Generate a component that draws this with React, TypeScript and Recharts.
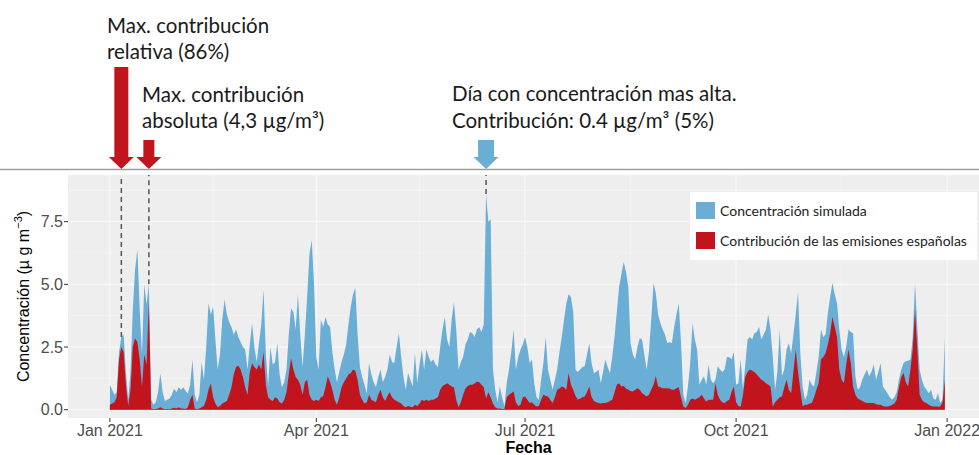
import React from "react";
import { AreaChart, Area, XAxis, YAxis, CartesianGrid, ReferenceLine, ReferenceDot } from "recharts";

// daily values for 2021 (µg/m3)
const concJan = [1.0, 0.8, 0.6, 0.7, 2.3, 2.9, 3.0, 1.5, 0.4, 1.5, 4.0, 5.6, 6.4, 4.0, 2.2, 5.0, 4.2, 5.0, 0.4, 0.2, 0.3, 0.7, 1.45, 0.7, 0.35, 0.4, 0.45, 0.6, 0.85, 0.7, 0.9];
const concFeb = [0.8, 0.9, 0.75, 0.65, 1.0, 2.0, 0.6, 0.3, 0.6, 1.9, 1.2, 2.5, 4.25, 3.8, 4.1, 2.8, 1.6, 2.2, 3.6, 4.4, 3.8, 3.5, 3.3, 3.0, 3.2, 2.9, 2.7, 2.5];
const concMar = [2.4, 1.6, 2.6, 3.45, 2.5, 1.9, 2.65, 3.4, 4.8, 2.2, 0.95, 2.5, 1.8, 1.9, 2.65, 1.4, 0.9, 1.1, 1.6, 3.0, 4.05, 3.9, 3.2, 4.6, 3.0, 1.7, 3.0, 4.5, 6.2, 6.77, 5.0];
const concApr = [2.1, 1.6, 3.6, 3.3, 3.7, 3.4, 3.3, 2.3, 1.6, 1.1, 1.5, 1.9, 2.2, 2.6, 3.4, 4.1, 4.6, 4.85, 3.0, 1.7, 1.3, 1.0, 0.66, 1.86, 1.4, 1.1, 0.9, 1.3, 1.6, 1.1];
const concMay = [1.3, 1.6, 2.2, 1.9, 1.86, 2.5, 3.05, 2.1, 1.3, 0.8, 1.46, 1.2, 0.93, 2.25, 1.06, 1.8, 2.4, 1.6, 2.4, 2.1, 1.9, 2.0, 1.8, 1.7, 2.5, 3.2, 3.7, 2.8, 2.5, 3.6, 4.3];
const concJun = [3.2, 1.6, 1.9, 2.1, 2.6, 2.8, 3.1, 3.05, 2.9, 3.2, 3.3, 3.1, 3.4, 8.6, 7.5, 7.6, 1.6, 0.8, 0.3, 0.93, 0.5, 0.13, 1.06, 1.6, 2.3, 3.2, 1.6, 2.1, 2.4, 2.6];
const concJul = [2.9, 2.5, 1.86, 2.0, 1.06, 0.5, 0.4, 1.2, 1.86, 2.9, 1.6, 1.2, 0.8, 1.2, 1.6, 2.3, 2.9, 3.6, 4.25, 4.6, 4.5, 3.9, 1.6, 1.5, 1.6, 1.7, 1.73, 2.2, 2.65, 1.86, 1.46];
const concAug = [1.5, 1.6, 1.06, 1.5, 2.0, 1.7, 1.46, 2.1, 2.9, 3.9, 4.9, 5.4, 5.9, 5.5, 4.9, 2.65, 2.2, 2.0, 2.5, 2.85, 2.8, 2.2, 1.6, 2.3, 3.6, 5.05, 4.65, 3.8, 3.45, 3.2, 3.0];
const concSep = [2.65, 2.7, 2.65, 3.3, 3.8, 4.25, 2.65, 0.6, 0.27, 0.93, 1.86, 3.45, 2.8, 2.4, 1.0, 1.2, 1.33, 1.0, 1.8, 1.2, 1.06, 1.2, 1.73, 1.6, 1.5, 1.6, 2.1, 2.1, 2.0, 2.3];
const concOct = [1.0, 1.06, 2.0, 0.8, 1.8, 2.8, 2.9, 2.8, 3.05, 3.1, 3.3, 2.8, 3.0, 3.2, 3.8, 3.2, 2.1, 0.8, 1.5, 3.2, 1.33, 1.6, 2.4, 2.65, 2.25, 3.0, 3.8, 4.7, 2.25, 0.93, 0.4];
const concNov = [0.6, 1.2, 1.0, 0.93, 1.5, 2.1, 3.2, 2.9, 3.0, 3.85, 4.5, 5.05, 4.6, 4.25, 3.2, 2.4, 2.1, 2.5, 3.2, 3.1, 3.05, 1.33, 0.8, 0.9, 1.2, 1.4, 1.6, 1.33, 1.5, 1.8];
const concDec = [1.2, 1.5, 1.86, 0.93, 0.8, 0.66, 0.5, 0.4, 0.5, 0.7, 1.2, 1.6, 1.86, 1.93, 1.95, 2.0, 2.9, 5.05, 3.3, 1.6, 1.2, 0.93, 0.8, 0.66, 0.8, 0.45, 0.4, 0.66, 0.27, 0.4, 2.9];

const contribJan = [0.2, 0.25, 0.3, 0.5, 2.0, 2.5, 2.3, 1.0, 0.15, 0.8, 2.5, 2.85, 2.7, 2.0, 0.9, 2.2, 1.8, 4.3, 0.05, 0.02, 0.03, 0.05, 0.1, 0.05, 0.02, 0.03, 0.02, 0.05, 0.08, 0.05, 0.1];
const contribFeb = [0.05, 0.05, 0.03, 0.1, 0.4, 0.6, 0.05, 0.02, 0.05, 0.1, 0.15, 0.4, 0.8, 1.05, 0.5, 0.25, 0.1, 0.15, 0.25, 0.3, 0.35, 0.6, 0.9, 1.4, 1.7, 1.75, 1.6, 1.3];
const contribMar = [0.9, 0.6, 1.5, 1.85, 1.7, 1.6, 1.8, 1.6, 2.3, 1.0, 0.5, 0.4, 0.35, 0.5, 0.45, 0.3, 0.25, 0.4, 0.7, 1.4, 2.05, 1.6, 1.3, 1.2, 1.0, 0.6, 1.1, 1.2, 0.6, 0.4, 0.35];
const contribApr = [0.4, 0.35, 0.5, 0.55, 0.9, 1.33, 1.1, 0.8, 0.4, 0.2, 0.5, 0.9, 1.1, 1.25, 1.4, 1.45, 1.6, 1.55, 1.2, 0.6, 0.4, 0.25, 0.3, 0.6, 0.4, 0.35, 0.3, 0.6, 0.8, 0.5];
const contribMay = [0.35, 0.55, 0.7, 0.5, 0.4, 0.35, 0.3, 0.25, 0.15, 0.1, 0.15, 0.12, 0.1, 0.2, 0.15, 0.25, 0.4, 0.35, 0.4, 0.35, 0.4, 0.4, 0.45, 0.5, 0.8, 0.95, 1.0, 1.06, 1.0, 0.93, 0.9];
const contribJun = [0.4, 0.1, 0.3, 0.6, 0.85, 0.95, 1.0, 1.0, 1.05, 1.13, 1.1, 1.0, 0.9, 0.45, 0.7, 0.5, 0.25, 0.1, 0.05, 0.05, 0.03, 0.03, 0.5, 0.6, 0.66, 0.73, 0.3, 0.15, 0.2, 0.5];
const contribJul = [0.53, 0.4, 0.27, 0.3, 0.2, 0.13, 0.15, 0.4, 0.6, 0.55, 0.53, 0.4, 0.27, 0.5, 0.8, 0.85, 0.93, 0.9, 0.8, 1.46, 1.0, 0.8, 0.55, 0.4, 0.45, 0.5, 0.53, 0.7, 0.93, 0.5, 0.35];
const contribAug = [0.3, 0.27, 0.25, 0.27, 0.27, 0.3, 0.35, 0.4, 0.7, 1.0, 1.06, 0.93, 0.95, 0.85, 0.8, 0.75, 0.73, 0.8, 0.86, 0.8, 0.66, 0.6, 0.53, 0.6, 0.8, 1.0, 1.33, 0.93, 0.9, 0.86, 0.86];
const contribSep = [0.86, 0.85, 0.8, 0.8, 0.86, 0.9, 0.5, 0.13, 0.07, 0.2, 0.4, 0.45, 0.4, 0.45, 0.5, 0.6, 0.45, 0.33, 0.4, 0.4, 0.4, 1.06, 0.6, 0.4, 0.3, 0.27, 0.35, 0.4, 0.7, 0.93];
const contribOct = [0.3, 0.15, 0.13, 0.6, 1.3, 1.5, 1.6, 1.55, 1.5, 1.4, 1.3, 1.2, 1.15, 1.06, 1.0, 0.93, 0.13, 0.3, 0.4, 0.5, 0.53, 0.9, 1.2, 0.8, 0.66, 1.5, 2.4, 1.5, 0.8, 0.13, 0.2];
const contribNov = [0.2, 0.25, 0.27, 0.5, 0.8, 1.06, 2.0, 2.1, 2.25, 2.6, 3.05, 3.7, 3.3, 2.9, 1.6, 1.2, 1.06, 1.8, 2.4, 1.86, 0.93, 0.6, 0.45, 0.4, 0.35, 0.3, 0.27, 0.27, 0.27, 0.27];
const contribDec = [0.22, 0.2, 0.2, 0.15, 0.13, 0.13, 0.15, 0.2, 0.25, 0.4, 0.9, 1.3, 1.46, 1.1, 0.93, 1.6, 2.4, 4.0, 2.4, 0.6, 0.4, 0.3, 0.27, 0.2, 0.15, 0.13, 0.13, 0.13, 0.13, 0.3, 1.2];

const seriesNames = ["Concentración simulada", "Contribución de las emisiones españolas"];
const tickDays = [0, 90, 181, 273, 365];
const tickLabels = ["Jan 2021", "Apr 2021", "Jul 2021", "Oct 2021", "Jan 2022"];
const minorDays = [45, 135, 227, 319];
const yTicks = [0, 2.5, 5, 7.5];
const yMinor = [1.25, 3.75, 6.25, 8.75];
// days pointed at: max relative contribution, max absolute contribution, highest concentration
const markedDays = [5, 17, 164];

const concentration = [...concJan, ...concFeb, ...concMar, ...concApr, ...concMay, ...concJun, ...concJul, ...concAug, ...concSep, ...concOct, ...concNov, ...concDec];
const contribution = [...contribJan, ...contribFeb, ...contribMar, ...contribApr, ...contribMay, ...contribJun, ...contribJul, ...contribAug, ...contribSep, ...contribOct, ...contribNov, ...contribDec];

const data = concentration.map((v, i) => ({ day: i, conc: v, contrib: contribution[i] }));

const BLUE = "#6aaed6";
const RED = "#c2141c";
const Y_MIN = -0.33;
const Y_MAX = 9.36;
const AXIS_FONT = "'Liberation Sans', Arial, sans-serif";
const NOTE_FONT = "Lato, 'Open Sans', sans-serif";

const arrowStyles = [
  { color: RED, len: 102, shaft: 7 },
  { color: RED, len: 29, shaft: 5.5 },
  { color: BLUE, len: 29, shaft: 8 },
];

const DownArrow = ({ cx, cy, color, len, shaft }: any) => {
  const tip = cy - 6;
  const head = 12.5;
  const hl = 12;
  const top = tip - len;
  const pts = [
    [cx - shaft, top], [cx + shaft, top], [cx + shaft, tip - hl], [cx + head, tip - hl],
    [cx, tip], [cx - head, tip - hl], [cx - shaft, tip - hl],
  ].map((p) => p.join(",")).join(" ");
  return <polygon points={pts} fill={color} />;
};

const App = () => {
  return (
    <div style={{ position: "absolute", left: 0, top: 0, width: 979, height: 455, overflow: "hidden", background: "#fff" }}>
      <AreaChart width={990} height={455} data={data} margin={{ top: 175, right: 1, bottom: 0, left: 0 }}>
        <CartesianGrid fill="#EEEEEE" stroke="#f8f8f8" strokeWidth={0.5} horizontalValues={yMinor} verticalValues={minorDays} />
        <CartesianGrid stroke="#fafafa" strokeWidth={1} horizontalValues={yTicks} verticalValues={tickDays} />
        <XAxis
          type="number"
          dataKey="day"
          domain={[-18.25, 383.25]}
          allowDataOverflow
          ticks={tickDays}
          tickFormatter={(v: number) => tickLabels[tickDays.indexOf(v)]}
          axisLine={false}
          tickLine={{ stroke: "#333" }}
          tickSize={4}
          tickMargin={3}
          height={37}
          tick={{ fill: "#4d4d4d", fontSize: 16, fontFamily: AXIS_FONT }}
        />
        <YAxis
          type="number"
          domain={[Y_MIN, Y_MAX]}
          allowDataOverflow
          ticks={yTicks}
          tickFormatter={(v: number) => v.toFixed(1)}
          axisLine={false}
          tickLine={{ stroke: "#333" }}
          tickSize={4}
          tickMargin={1}
          width={68}
          tick={{ fill: "#4d4d4d", fontSize: 16, fontFamily: AXIS_FONT }}
        />
        <Area type="linear" dataKey="conc" name={seriesNames[0]} fill={BLUE} fillOpacity={1} stroke="none" baseValue={0} isAnimationActive={false} />
        <Area type="linear" dataKey="contrib" name={seriesNames[1]} fill={RED} fillOpacity={1} stroke="none" baseValue={0} isAnimationActive={false} />
        {markedDays.map((d) => (
          <ReferenceLine
            key={`dash-${d}`}
            segment={[{ x: d, y: concentration[d] }, { x: d, y: Y_MAX }]}
            stroke="#555"
            strokeWidth={1.5}
            strokeDasharray="5 4"
          />
        ))}
        {markedDays.map((d, i) => (
          <ReferenceDot
            key={`arrow-${d}`}
            x={d}
            y={Y_MAX}
            r={0}
            ifOverflow="visible"
            shape={(p: any) => <DownArrow cx={p.cx} cy={p.cy} {...arrowStyles[i]} />}
          />
        ))}
      </AreaChart>

      <svg width={979} height={455} style={{ position: "absolute", left: 0, top: 0, pointerEvents: "none" }}>
        <line x1={0} x2={979} y1={169.5} y2={169.5} stroke="#9e9e9e" strokeWidth={1.5} />
        <g fontFamily={NOTE_FONT} fontSize={20.5} fill="#1a1a1a">
          <text x={107} y={33}>Max. contribución</text>
          <text x={107} y={59}>relativa (86%)</text>
          <text x={142} y={102}>Max. contribución</text>
          <text x={142} y={128}>absoluta (4,3 µg/m³)</text>
          <text x={452} y={101}>Día con concentración mas alta.</text>
          <text x={452} y={128}>Contribución: 0.4 µg/m³ (5%)</text>
        </g>
        <text
          transform="translate(29, 296.5) rotate(-90)"
          textAnchor="middle"
          fontFamily={AXIS_FONT}
          fontSize={16}
          fill="#000"
        >
          <tspan>Concentración (µ g m</tspan>
          <tspan dy={-7} fontSize={11}>−3</tspan>
          <tspan dy={7}>)</tspan>
        </text>
        <text x={528.5} y={453} textAnchor="middle" fontFamily={AXIS_FONT} fontSize={16} fontWeight="bold" fill="#000">
          Fecha
        </text>
      </svg>

      <div
        style={{
          position: "absolute",
          left: 690,
          top: 192,
          width: 287,
          height: 68,
          background: "#fff",
          fontFamily: NOTE_FONT,
          fontSize: 14,
          color: "#222",
        }}
      >
        {seriesNames.map((name, i) => (
          <div key={name} style={{ position: "absolute", left: 6, top: 10 + i * 30, height: 17, display: "flex", alignItems: "center" }}>
            <span style={{ display: "inline-block", width: 19, height: 17, background: i === 0 ? BLUE : RED }} />
            <span style={{ marginLeft: 5, whiteSpace: "nowrap" }}>{name}</span>
          </div>
        ))}
      </div>
    </div>
  );
};

export default App;
